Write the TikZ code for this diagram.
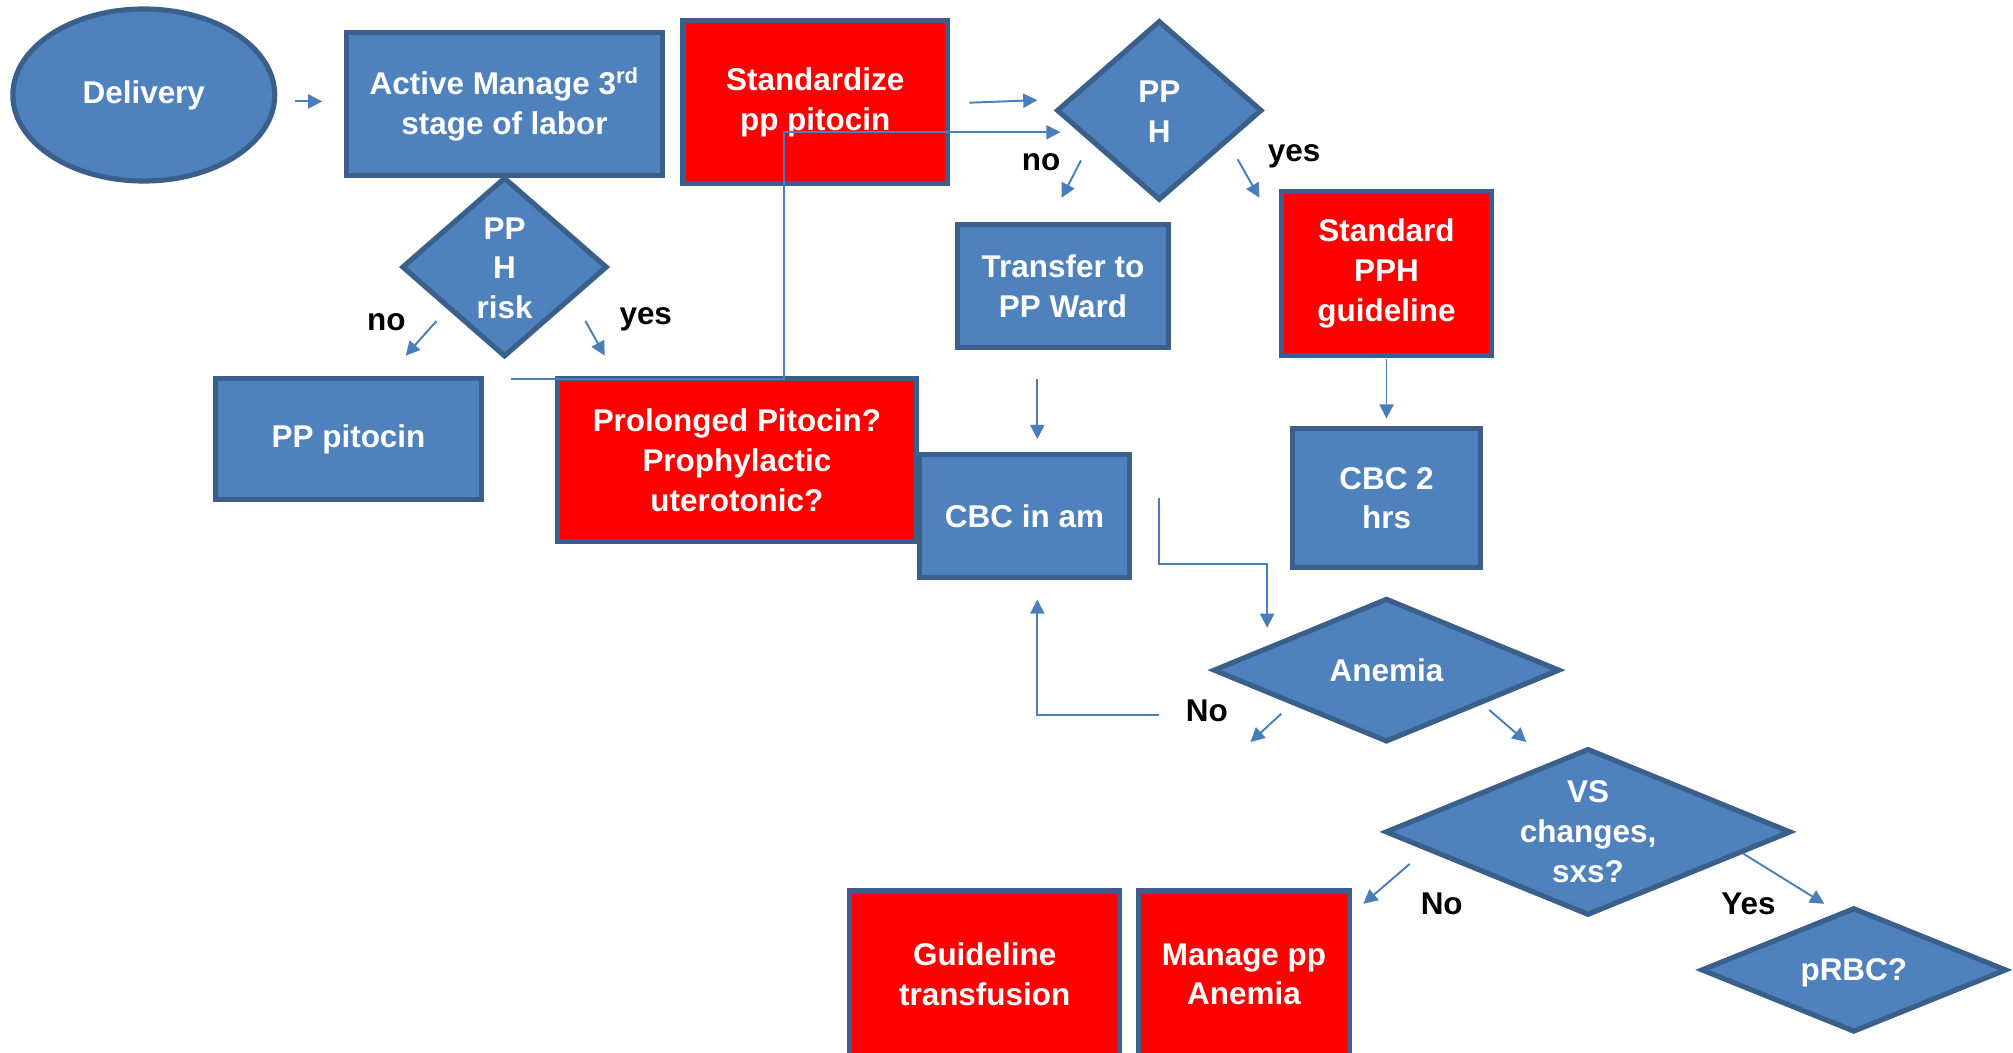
\documentclass[tikz,border=0pt]{standalone}
\usepackage{fontspec}
\setmainfont{Liberation Sans}
\usetikzlibrary{shapes.geometric,arrows.meta}
\definecolor{boxblue}{HTML}{4F81BD}
\definecolor{edgeblue}{HTML}{3A5F8B}
\definecolor{linkblue}{HTML}{4A7EBB}
\definecolor{alertred}{HTML}{FF0000}
\begin{document}
\begin{tikzpicture}[x=0.5pt,y=-0.5pt,
  txt/.style={text=white,font=\fontsize{12.25pt}{15.5pt}\selectfont\bfseries,align=center},
  shapebase/.style={draw=edgeblue,line width=2pt,inner sep=0pt},
  bluebox/.style={shapebase,rectangle,fill=boxblue,txt},
  redbox/.style={shapebase,rectangle,fill=alertred,txt},
  decision/.style={shapebase,diamond,fill=boxblue},
  dlabel/.style={txt,inner sep=0pt},
  answer/.style={font=\fontsize{12.25pt}{15pt}\selectfont\bfseries,text=black,inner sep=0pt},
  link/.style={draw=linkblue,line width=0.75pt,-{Triangle[length=5.5pt,width=5.5pt]}},
]
\useasboundingbox (0,0) rectangle (1568,820);
\clip (0,0) rectangle (1568,820);

% start and first steps
\node[shapebase,ellipse,fill=boxblue,txt,minimum width=102pt,minimum height=67pt] (delivery) at (112,74) {Delivery};
\node[bluebox,minimum width=123pt,minimum height=56pt] (active) at (393,81) {Active Manage 3\textsuperscript{rd}\\stage of labor};
\node[redbox,minimum width=103pt,minimum height=63.5pt] (standardize) at (635,79.5) {Standardize\\pp pitocin};

% decisions
\node[decision,minimum width=80pt,minimum height=70pt,label={[dlabel,yshift=-0.5pt]center:{PP\\H}}] (pph) at (903,86) {};
\node[decision,minimum width=80pt,minimum height=70pt,label={[dlabel,yshift=-0.5pt]center:{PP\\H\\risk}}] (risk) at (393,208) {};
\node[decision,minimum width=135pt,minimum height=56pt,label={[dlabel]center:{Anemia}}] (anemia) at (1080,522) {};
\node[decision,minimum width=158pt,minimum height=65pt,label={[dlabel]center:{VS\\changes,\\sxs?}}] (vs) at (1237,648) {};
\node[decision,minimum width=119pt,minimum height=48.5pt,label={[dlabel,yshift=-1pt]center:{pRBC?}}] (prbc) at (1444,755.5) {};

% actions
\node[bluebox,minimum width=103.5pt,minimum height=47pt] (pppitocin) at (271.5,342) {PP pitocin};
\node[redbox,minimum width=140pt,minimum height=63.5pt] (prolonged) at (574,358.5) {Prolonged Pitocin?\\Prophylactic\\uterotonic?};
\node[bluebox,minimum width=82pt,minimum height=48pt] (transfer) at (828,223) {Transfer to\\PP Ward};
\node[redbox,minimum width=82pt,minimum height=64pt] (standard) at (1080,213) {Standard\\PPH\\guideline};
\node[bluebox,minimum width=82pt,minimum height=48pt] (cbcam) at (798,402) {CBC in am};
\node[bluebox,minimum width=73pt,minimum height=54pt] (cbctwo) at (1080,388) {CBC 2\\hrs};
\node[redbox,minimum width=105pt,minimum height=65pt] (transfusion) at (767,759) {Guideline\\transfusion};
\node[redbox,minimum width=82pt,minimum height=65pt] (manage) at (969,759) {Manage pp\\Anemia};

% answer labels
\node[answer] (riskno) at (301,251) {no};
\node[answer] (riskyes) at (503,249) {yes};
\node[answer] (pphno) at (811,126) {no};
\node[answer] (pphyes) at (1008,122) {yes};
\node[answer] (anemiano) at (940,554) {No};
\node[answer] (vsno) at (1123,704) {No};
\node[answer] (vsyes) at (1362,704) {Yes};

% connector end points
\coordinate (c1s) at (230,79);   \coordinate (c1e) at (251,79);
\coordinate (c2s) at (755,80);   \coordinate (c2e) at (808,78);
\coordinate (c3s) at (340,250);  \coordinate (c3e) at (316,277);
\coordinate (c4s) at (456,250);  \coordinate (c4e) at (471,277);
\coordinate (c5s) at (842,125);  \coordinate (c5e) at (827,154);
\coordinate (c6s) at (964,124);  \coordinate (c6e) at (981,154);
\coordinate (c7s) at (808,295);  \coordinate (c7e) at (808,342);
\coordinate (c8s) at (1080,280); \coordinate (c8e) at (1080,326);
\coordinate (c9s) at (998,556);  \coordinate (c9e) at (974,578);
\coordinate (c10s) at (1160,553); \coordinate (c10e) at (1189,578);
\coordinate (c11s) at (1098,673); \coordinate (c11e) at (1062,704);
\coordinate (c12s) at (1358,665); \coordinate (c12e) at (1421,704);
\coordinate (e1a) at (398,295);  \coordinate (e1b) at (611,103);  \coordinate (e1c) at (826,103);
\coordinate (e2a) at (903,388);  \coordinate (e2b) at (987,439);  \coordinate (e2c) at (987,489);
\coordinate (e3a) at (903,557);  \coordinate (e3b) at (808,467);

% connectors
\draw[link] (c1s) -- (c1e);
\draw[link] (c2s) -- (c2e);
\draw[link] (c3s) -- (c3e);
\draw[link] (c4s) -- (c4e);
\draw[link] (c5s) -- (c5e);
\draw[link] (c6s) -- (c6e);
\draw[link] (c7s) -- (c7e);
\draw[link] (c8s) -- (c8e);
\draw[link] (c9s) -- (c9e);
\draw[link] (c10s) -- (c10e);
\draw[link] (c11s) -- (c11e);
\draw[link] (c12s) -- (c12e);
\draw[link] (e1a) -| (e1b) -- (e1c);
\draw[link] (e2a) |- (e2b) -- (e2c);
\draw[link] (e3a) -| (e3b);
\end{tikzpicture}
\end{document}
